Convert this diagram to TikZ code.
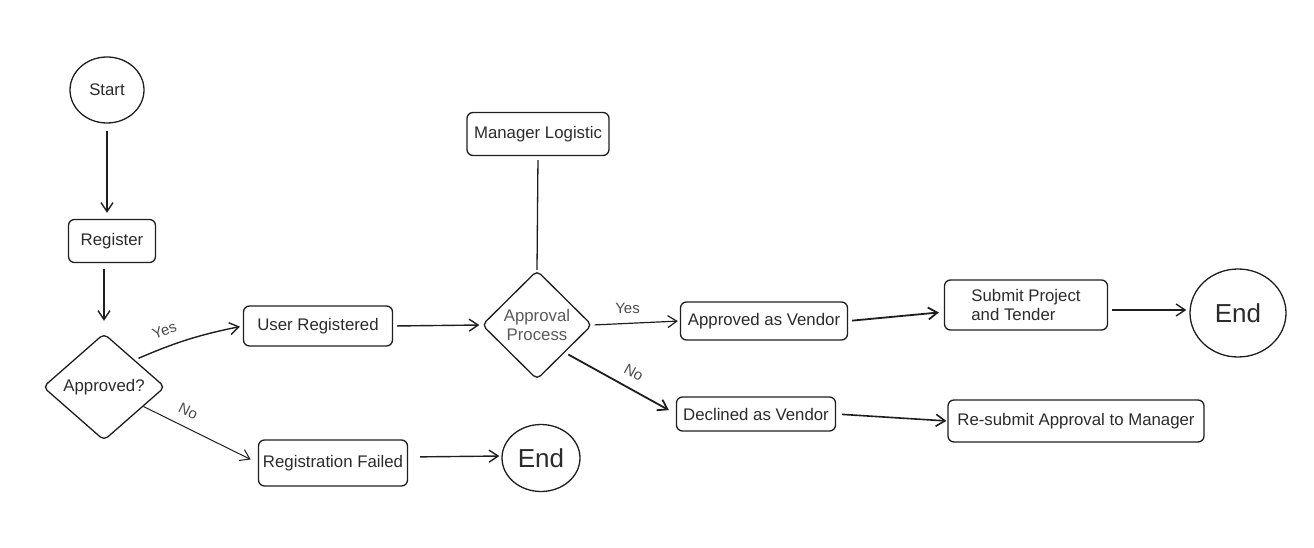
\documentclass[tikz,border=0pt]{standalone}
\usepackage{fontspec}
\setmainfont{Liberation Sans}
\usepackage{xcolor}
\usetikzlibrary{shapes.geometric, arrows.meta}

\definecolor{ink}{HTML}{1E1E1E}
\definecolor{txt}{HTML}{2B2B2B}

\begin{document}
\begin{tikzpicture}[x=1pt, y=-1pt,
        every node/.style={text=txt, font=\fontsize{16.8}{19.5}\selectfont},
        box/.style={draw=ink, line width=1.3pt, rounded corners=6pt, inner sep=2pt},
        dec/.style={draw=ink, line width=1.3pt, diamond, rounded corners=5pt, inner sep=0pt, align=center},
        term/.style={draw=ink, line width=1.3pt, ellipse, inner sep=0pt},
        flow/.style={draw=ink, line width=1.4pt, -{Straight Barb[length=9pt, width=12pt]}},
        lbl/.style={text=black!70, font=\fontsize{15}{17}\selectfont, inner sep=1pt}]
        \useasboundingbox (0,0) rectangle (1314,548);

        % left column
        \node[term, minimum width=74, minimum height=66] (start) at (107, 90) {Start};
        \node[box, minimum width=87, minimum height=43] (reg) at (112, 241) {Register};
        \node[dec, minimum width=122, minimum height=107] (appr) at (104, 387) {Approved?};

        \node[box, minimum width=149, minimum height=40] (ureg) at (318, 326) {User Registered};
        \node[box, minimum width=149, minimum height=46] (rfail) at (333, 463) {Registration Failed};
        \node[term, minimum width=78, minimum height=67, font=\fontsize{26}{30}\selectfont] (endA) at (541, 458) {End};

        % approval part
        \node[box, minimum width=142, minimum height=43] (mgr) at (538, 134) {Manager Logistic};
        \node[dec, minimum width=110, minimum height=109, text=black!65] (proc) at (537, 325) {Approval\\Process};

        \node[box, minimum width=167, minimum height=38] (yesv) at (764, 321) {Approved as Vendor};
        \node[box, minimum width=159, minimum height=34] (nov) at (756, 414) {Declined as Vendor};
        \node[box, minimum width=163, minimum height=50, align=left] (sub) at (1026, 305) {Submit Project\\and Tender};
        \node[box, minimum width=256, minimum height=42] (resub) at (1076, 421) {Re-submit Approval to Manager};
        \node[term, minimum width=96, minimum height=88, font=\fontsize{26}{30}\selectfont] (endB) at (1238, 313) {End};

        % connectors
        \draw[flow, shorten <=7pt, shorten >=6pt] (start.south) -- (start.south |- reg.north);
        \draw[flow, shorten <=6pt, shorten >=12pt] (reg.south -| appr.north) -- (appr.north);
        \draw[flow, shorten <=4pt, shorten >=3pt] (appr.north east) to[bend left=6]
            node[lbl, pos=0.32, above=9pt, sloped] {Yes} (ureg.west);
        \draw[flow, line width=1pt, shorten >=8pt] (appr) --
            node[lbl, pos=0.33, above=9pt, sloped] {No} (rfail.west);
        \draw[flow, shorten <=12pt, shorten >=2pt] ([yshift=6pt]rfail.east) -- ([yshift=2pt]endA.west);
        \draw[flow, shorten <=4pt, shorten >=2pt] (ureg.east) -- (proc.west);
        \draw[draw=ink, line width=1.3pt, shorten <=4pt] (mgr.south) -- (proc.north);
        \draw[flow, line width=1.2pt, shorten <=2pt, shorten >=2pt] (proc.east) --
            node[lbl, pos=0.4, above=8pt] {Yes} (yesv.west);
        \draw[flow, line width=1.8pt, shorten <=4pt, shorten >=8pt] (proc.south east) --
            node[lbl, pos=0.55, above=9pt, sloped] {No} (nov.west);
        \draw[flow, line width=1.8pt, shorten <=4pt, shorten >=5pt] (yesv.east) -- ([yshift=-7pt]sub.west);
        \draw[flow, shorten <=4pt, shorten >=3pt] ([yshift=-5pt]sub.east) -- ([yshift=3pt]endB.west);
        \draw[flow, line width=1.6pt, shorten <=6pt, shorten >=1pt] (nov.east) -- (resub.west);
    \end{tikzpicture}
\end{document}
